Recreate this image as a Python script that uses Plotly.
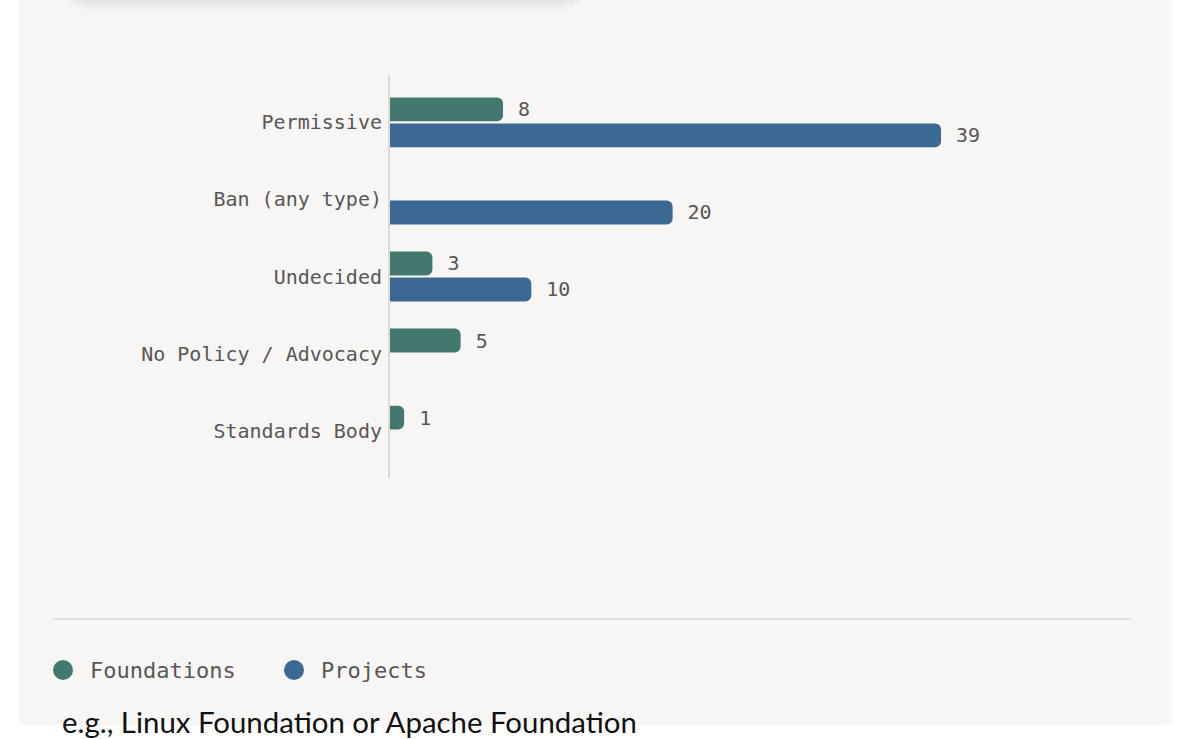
import plotly.graph_objects as go

categories = ["Permissive", "Ban (any type)", "Undecided", "No Policy / Advocacy", "Standards Body"]
series_names = ["Foundations", "Projects"]
foundations = [8, None, 3, 5, 1]
projects = [39, 20, 10, None, None]
colors = ["#42786e", "#3c6894"]
caption = "e.g., Linux Foundation or Apache Foundation"

W, H = 1180, 739
L, R, T, B = 390, 1131, 75, 478

def px(x):
    return (x - L) / (R - L)

def py(y):
    return (B - y) / (B - T)

MONO = "DejaVu Sans Mono"
fig = go.Figure()
for name, vals, col in zip(series_names, [foundations, projects], colors):
    fig.add_trace(go.Bar(
        y=categories, x=vals, name=name, orientation="h",
        marker=dict(color=col, cornerradius=6, line=dict(width=0)),
        text=[("\u00a0" + str(v)) if v is not None else "" for v in vals],
        textposition="outside", cliponaxis=False,
        textfont=dict(family=MONO, size=20, color="#575757"),
        showlegend=False, hoverinfo="skip",
    ))

shapes = []
# card background
shapes.append(dict(type="path", xref="paper", yref="paper", layer="below",
                   path=f"M {px(19)},{py(0)} L {px(1172)},{py(0)} L {px(1172)},{py(717)} "
                        f"Q {px(1172)},{py(725)} {px(1164)},{py(725)} L {px(19)},{py(725)} Z",
                   fillcolor="#f7f6f4", line=dict(width=0)))
# faint shadow at top
for i, op in enumerate([0.05, 0.035, 0.02, 0.01]):
    shapes.append(dict(type="rect", xref="paper", yref="paper", layer="below",
                       x0=px(70 + i * 6), x1=px(580 - i * 6), y0=py(0), y1=py(4 + i * 4),
                       fillcolor=f"rgba(120,110,100,{op})", line=dict(width=0)))
# separator line
shapes.append(dict(type="line", xref="paper", yref="paper", x0=px(53), x1=px(1131),
                   y0=py(619), y1=py(619), line=dict(color="#e2e0dd", width=2)))
# manual legend
legend_x = [63, 294]
annotations = []
for lx, name, col in zip(legend_x, series_names, colors):
    shapes.append(dict(type="circle", xref="paper", yref="paper",
                       x0=px(lx - 10), x1=px(lx + 10), y0=py(660), y1=py(680),
                       fillcolor=col, line=dict(width=0)))
    annotations.append(dict(xref="paper", yref="paper", x=px(lx + 25), y=py(670),
                            text=name, showarrow=False, xanchor="left", yanchor="middle",
                            font=dict(family=MONO, size=22, color="#575757")))
annotations.append(dict(xref="paper", yref="paper", x=px(60), y=py(721),
                        text=caption, showarrow=False, xanchor="left", yanchor="middle",
                        font=dict(family="Lato", size=29.4, color="#111111")))

fig.update_layout(
    width=W, height=H,
    margin=dict(l=L, r=W - R, t=T, b=H - B, pad=0),
    paper_bgcolor="white", plot_bgcolor="rgba(0,0,0,0)",
    barmode="group", bargap=0.325, bargroupgap=0.08,
    shapes=shapes, annotations=annotations,
    xaxis=dict(range=[0, (R - L) / 14.13], showgrid=False, zeroline=False,
               showticklabels=False, showline=False, fixedrange=True),
    yaxis=dict(categoryorder="array", categoryarray=categories,
               range=[4.615, -0.615], showgrid=False, zeroline=False,
               showline=True, linecolor="#dcdad7", linewidth=2,
               ticks="", ticklabelstandoff=2,
               tickfont=dict(family=MONO, size=20, color="#575757")),
    showlegend=False,
)
fig.write_html("out.html")
